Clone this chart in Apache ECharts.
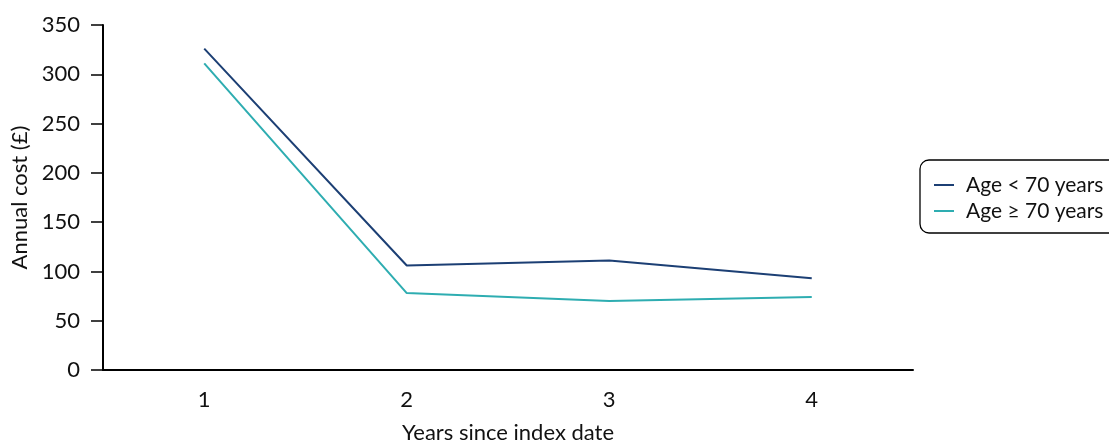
<!DOCTYPE html>
<html><head><meta charset="utf-8">
<script src="https://cdn.jsdelivr.net/npm/echarts@6/dist/echarts.min.js"></script>
<style>html,body{margin:0;padding:0;background:#fff}#c{width:1109px;height:441px}</style>
</head><body><div id="c"></div>
<script>
const categories = ['1', '2', '3', '4'];
const seriesNames = ['Age < 70 years', 'Age \u2265 70 years'];
const under70 = [326, 106, 111, 93];
const over70 = [311, 78, 70, 74];
const yTicks = [0, 50, 100, 150, 200, 250, 300, 350];
const colors = ['#1c3f74', '#2eadb1'];

const chart = echarts.init(document.getElementById('c'), null, {renderer: 'canvas'});
const font = 'Lato';
chart.setOption({
  animation: false,
  backgroundColor: '#fff',
  grid: {left: 103, right: 196, top: 25, bottom: 71, containLabel: false, outerBoundsMode: 'none'},
  legend: {
    left: 920, top: 160,
    orient: 'vertical',
    data: seriesNames.map((n, i) => ({name: n, icon: 'rect', itemStyle: {color: colors[i]}})),
    borderColor: '#000', borderWidth: 1.3, borderRadius: 9,
    padding: [12, 40, 9, 14],
    itemGap: 0, itemWidth: 20, itemHeight: 2,
    textStyle: {fontFamily: font, fontSize: 21, color: '#111', lineHeight: 26, padding: [0, 0, 0, 7]}
  },
  xAxis: {
    type: 'category', data: categories,
    name: 'Years since index date', nameLocation: 'middle', nameGap: 52,
    nameTextStyle: {fontFamily: font, fontSize: 22, color: '#111'},
    axisLine: {lineStyle: {color: '#000', width: 2}},
    axisTick: {alignWithLabel: true, length: 11, lineStyle: {color: '#000', width: 1.5}},
    axisLabel: {fontFamily: font, fontSize: 22, color: '#111', margin: 19}
  },
  yAxis: {
    type: 'value', min: yTicks[0], max: yTicks[yTicks.length - 1], interval: 50,
    name: 'Annual cost (\u00a3)', nameLocation: 'middle', nameGap: 71, nameRotate: 90,
    nameTextStyle: {fontFamily: font, fontSize: 22, color: '#111'},
    axisLine: {show: true, lineStyle: {color: '#000', width: 2}},
    axisTick: {show: true, length: 12, lineStyle: {color: '#000', width: 1.5}},
    axisLabel: {fontFamily: font, fontSize: 22, color: '#111', margin: 23},
    splitLine: {show: false}
  },
  series: [
    {name: seriesNames[0], type: 'line', data: under70, symbol: 'none',
     lineStyle: {color: colors[0], width: 2}, itemStyle: {color: colors[0]}},
    {name: seriesNames[1], type: 'line', data: over70, symbol: 'none',
     lineStyle: {color: colors[1], width: 2}, itemStyle: {color: colors[1]}}
  ]
});
</script></body></html>
